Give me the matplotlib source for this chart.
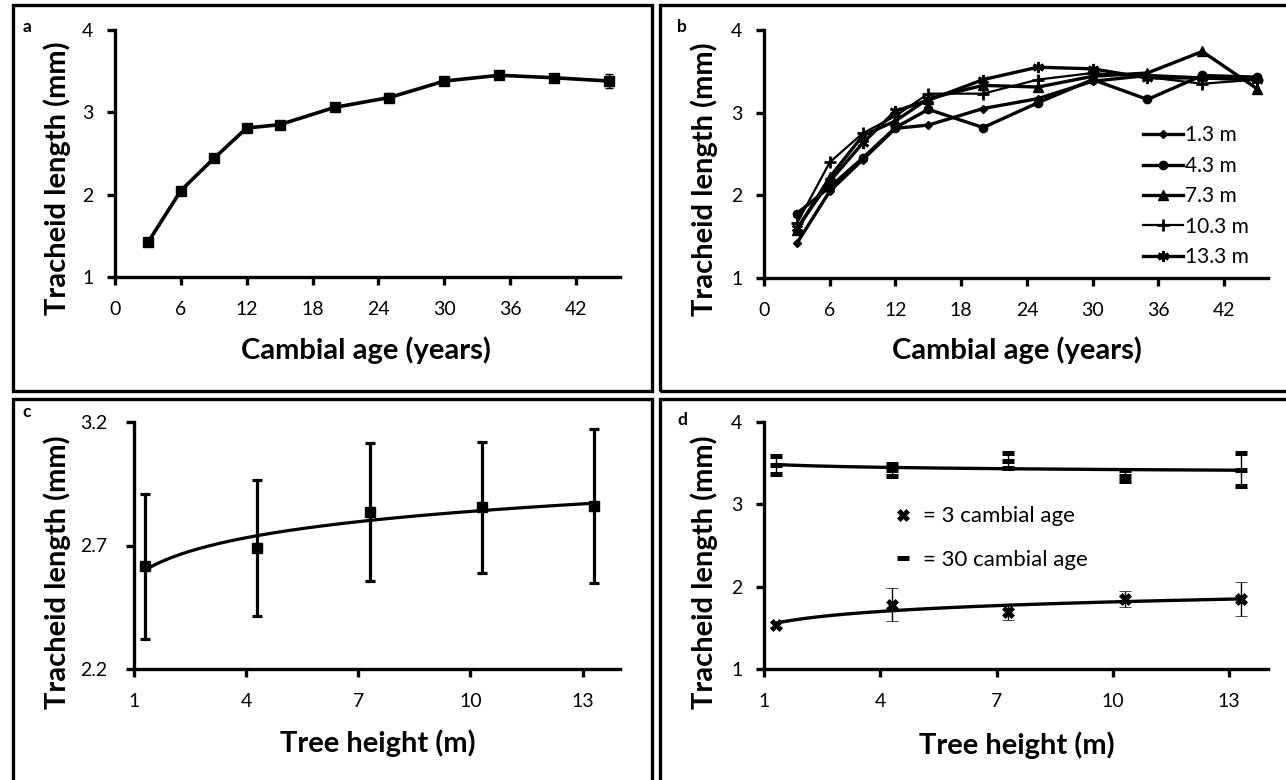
#!/usr/bin/env python3
"""Tracheid length vs cambial age and tree height, four panels."""

import numpy as np
import matplotlib

matplotlib.use("Agg")

import matplotlib.pyplot as plt
from matplotlib.lines import Line2D
from matplotlib.patches import Rectangle

W, H = 1286, 780

# panel a: mean tracheid length by cambial age
cambial_age = [3, 6, 9, 12, 15, 20, 25, 30, 35, 40, 45]
mean_length = [1.42, 2.05, 2.44, 2.81, 2.85, 3.06, 3.18, 3.38, 3.45, 3.42, 3.38]
mean_err = [0.02, 0.03, 0.03, 0.03, 0.03, 0.03, 0.05, 0.03, 0.03, 0.03, 0.08]

# panel b: one series per sampling height
height_labels = ["1.3 m", "4.3 m", "7.3 m", "10.3 m", "13.3 m"]
len_1_3 = [1.42, 2.05, 2.43, 2.81, 2.85, 3.05, 3.17, 3.38, 3.45, 3.42, 3.40]
len_4_3 = [1.78, 2.10, 2.45, 2.82, 3.04, 2.82, 3.12, 3.40, 3.16, 3.45, 3.43]
len_7_3 = [1.58, 2.22, 2.72, 2.90, 3.17, 3.33, 3.31, 3.44, 3.48, 3.74, 3.29]
len_10_3 = [1.66, 2.40, 2.75, 2.96, 3.23, 3.23, 3.40, 3.48, 3.43, 3.35, 3.40]
len_13_3 = [1.60, 2.17, 2.63, 3.02, 3.15, 3.40, 3.55, 3.53, 3.42, 3.42, 3.40]

# panel c: mean length by tree height
tree_height = [1.3, 4.3, 7.3, 10.3, 13.3]
height_mean = [2.615, 2.69, 2.836, 2.854, 2.86]
height_sd = [0.295, 0.275, 0.28, 0.265, 0.31]

# panel d: cambial age 3 and 30 by tree height
age3_mean = [1.54, 1.78, 1.69, 1.85, 1.85]
age3_err = [0.03, 0.20, 0.10, 0.10, 0.21]
age30_mean = [3.48, 3.42, 3.53, 3.35, 3.42]
age30_err = [0.11, 0.07, 0.09, 0.07, 0.20]

plt.rcParams["font.family"] = ["Lato", "DejaVu Sans"]

LABEL_SIZE = 21
TICK_SIZE = 14


def px_axes(fig, left, top, right, bottom):
    """Add axes from pixel edges measured from the top-left corner."""
    return fig.add_axes([left / W, 1 - bottom / H, (right - left) / W, (bottom - top) / H])


def style_axes(ax, ypad=10):
    for side in ("top", "right"):
        ax.spines[side].set_visible(False)
    for side in ("left", "bottom"):
        ax.spines[side].set_linewidth(2.4)
    ax.tick_params(direction="out", length=5.5, width=2.4, labelsize=TICK_SIZE)
    ax.tick_params(axis="x", pad=12)
    ax.tick_params(axis="y", pad=ypad)


def set_labels(ax, xlabel, ylabel, xpos, ypos):
    ax.set_xlabel(xlabel, fontsize=LABEL_SIZE, fontweight="bold", va="center")
    ax.set_ylabel(ylabel, fontsize=LABEL_SIZE, fontweight="bold", va="center")
    ax.xaxis.set_label_coords(*xpos)
    ax.yaxis.set_label_coords(*ypos)


def log_fit(x, y):
    """Logarithmic trend line through the points, like a spreadsheet trendline."""
    slope, intercept = np.polyfit(np.log(x), y, 1)
    xs = np.linspace(min(x), max(x), 200)
    return xs, intercept + slope * np.log(xs)


fig = plt.figure(figsize=(W / 100, H / 100), dpi=100)

# panel frames
for left, top, right, bottom in [(13, 5, 652, 391), (660, 5, 1300, 391),
                                 (13, 399, 652, 800), (660, 399, 1300, 800)]:
    fig.add_artist(Rectangle((left / W, 1 - bottom / H), (right - left) / W,
                             (bottom - top) / H, transform=fig.transFigure,
                             fill=False, edgecolor="black", linewidth=2.4))

# a
ax = px_axes(fig, 115, 30, 620, 277)
ax.errorbar(cambial_age, mean_length, yerr=mean_err, color="black", lw=2.6,
            marker="s", ms=7, elinewidth=1, capsize=3, capthick=1)
ax.set_xlim(0, 46)
ax.set_ylim(1, 4)
ax.set_xticks(range(0, 43, 6))
ax.set_yticks([1, 2, 3, 4])
style_axes(ax)
set_labels(ax, "Cambial age (years)", "Tracheid length (mm)", (0.497, -0.296), (-0.115, 0.40))
fig.text(27 / W, 1 - 27 / H, "a", fontsize=12.5, fontweight="bold", ha="center", va="center")

# b
ax = px_axes(fig, 764, 30, 1268, 278)
series = [len_1_3, len_4_3, len_7_3, len_10_3, len_13_3]
markers = ["D", "o", "^", "+", (6, 2, 0)]
sizes = [4.5, 6, 6.5, 8, 8]
widths = [2.4, 2.4, 2.4, 1.6, 2.4]
for values, label, mk, ms, lw in zip(series, height_labels, markers, sizes, widths):
    ax.plot(cambial_age, values, color="black", lw=lw, marker=mk, ms=ms,
            mew=2 if mk in ("+", (6, 2, 0)) else 1, label=label)
ax.set_xlim(0, 46)
ax.set_ylim(1, 4)
ax.set_xticks(range(0, 43, 6))
ax.set_yticks([1, 2, 3, 4])
style_axes(ax)
set_labels(ax, "Cambial age (years)", "Tracheid length (mm)", (0.502, -0.29), (-0.118, 0.40))
ax.legend(loc="upper left", bbox_to_anchor=(0.752, 0.615), frameon=False, fontsize=15,
          handlelength=1.9, handletextpad=0.1, labelspacing=0.5, borderpad=0, borderaxespad=0)
fig.text(682 / W, 1 - 27 / H, "b", fontsize=12.5, fontweight="bold", ha="center", va="center")

# c
ax = px_axes(fig, 134, 422, 620, 669)
ax.errorbar(tree_height, height_mean, yerr=height_sd, color="black", ls="none",
            marker="s", ms=7, elinewidth=2.3, capsize=3.5, capthick=2.3)
fit_x, fit_y = log_fit(tree_height, height_mean)
ax.plot(fit_x, fit_y, color="black", lw=2.3)
ax.set_xlim(1, 14)
ax.set_ylim(2.2, 3.2)
ax.set_xticks([1, 4, 7, 10, 13])
ax.set_yticks([2.2, 2.7, 3.2])
style_axes(ax, ypad=14)
set_labels(ax, "Tree height (m)", "Tracheid length (mm)", (0.502, -0.30), (-0.158, 0.39))
fig.text(27 / W, 1 - 412 / H, "c", fontsize=12.5, fontweight="bold", ha="center", va="center")

# d
ax = px_axes(fig, 764, 422, 1268, 669)
ax.errorbar(tree_height, age30_mean, yerr=age30_err, color="black", ls="none",
            marker="_", ms=8.5, mew=3.6, elinewidth=1, capsize=4, capthick=1)
ax.errorbar(tree_height, age3_mean, yerr=age3_err, color="black", ls="none",
            marker="X", ms=8, mew=0.5, elinewidth=1, capsize=4, capthick=1)
for values in (age30_mean, age3_mean):
    fit_x, fit_y = log_fit(tree_height, values)
    ax.plot(fit_x, fit_y, color="black", lw=2.4)
ax.set_xlim(1, 14)
ax.set_ylim(1, 4)
ax.set_xticks([1, 4, 7, 10, 13])
ax.set_yticks([1, 2, 3, 4])
style_axes(ax)
set_labels(ax, "Tree height (m)", "Tracheid length (mm)", (0.502, -0.31), (-0.118, 0.39))
handles = [Line2D([], [], color="black", ls="none", marker="X", ms=8, mew=0.5),
           Line2D([], [], color="black", ls="none", marker="_", ms=8.5, mew=3.6)]
ax.legend(handles, ["= 3 cambial age", "= 30 cambial age"], loc="upper left",
          bbox_to_anchor=(0.254, 0.658), frameon=False, fontsize=16, handlelength=1.0,
          handletextpad=0.4, labelspacing=1.05, borderpad=0, borderaxespad=0)
fig.text(682 / W, 1 - 420 / H, "d", fontsize=12.5, fontweight="bold", ha="center", va="center")

fig.savefig("out.png", dpi=100)
